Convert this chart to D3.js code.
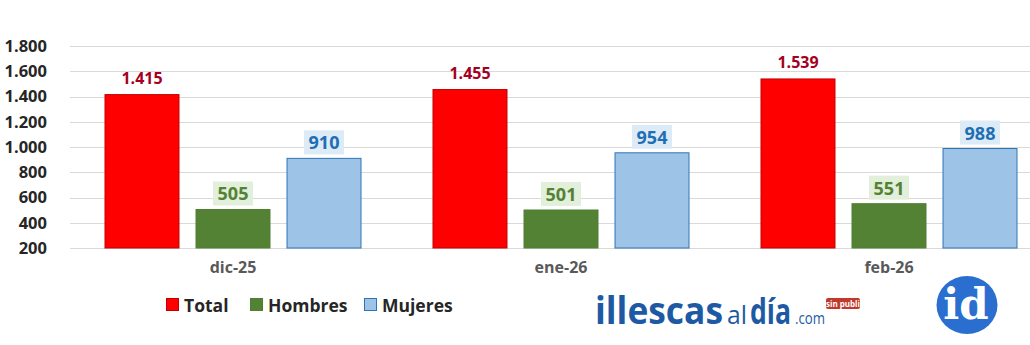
<!DOCTYPE html>
<html><head><meta charset="utf-8">
<script src="https://cdn.jsdelivr.net/npm/d3@7"></script>
<style>body{margin:0;background:#fff;}svg{display:block;font-family:"Open Sans","Liberation Sans",Arial,sans-serif;}</style>
</head><body><svg id="c" width="1030" height="345"></svg>
<script>
const categories = ["dic-25", "ene-26", "feb-26"];
const seriesNames = ["Total", "Hombres", "Mujeres"];
const total = [1415, 1455, 1539];
const hombres = [505, 501, 551];
const mujeres = [910, 954, 988];
const yTicks = [200, 400, 600, 800, 1000, 1200, 1400, 1600, 1800];

const colors = {Total:"#ff0000", Hombres:"#548235", Mujeres:"#9dc3e6"};
const strokes = {Total:"#c00000", Hombres:"#507e32", Mujeres:"#2e75b6"};
const labelColors = {Total:"#a50021", Hombres:"#548235", Mujeres:"#1f6fb5"};
const labelBg = {Total:null, Hombres:"#e2efda", Mujeres:"#ddebf7"};
const fmt = v => d3.format(",")(v).replace(/,/g, ".");

const svg = d3.select("#c");
const y = d3.scaleLinear().domain([200, 1800]).range([248, 46]);
const x = d3.scaleBand().domain(categories).range([69, 1053]).padding(0);
const xs = d3.scaleBand().domain(seriesNames).range([-128.5, 128.5]).paddingInner(0.176).paddingOuter(0);

// gridlines
svg.append("g").selectAll("line").data(yTicks).join("line")
  .attr("x1", 70).attr("x2", 1030)
  .attr("y1", d => Math.round(y(d)) + 0.5).attr("y2", d => Math.round(y(d)) + 0.5)
  .attr("stroke", "#d9d9d9").attr("stroke-width", 1);

// y axis labels
const yAxis = d3.axisLeft(y).tickValues(yTicks).tickFormat(fmt).tickSize(0).tickPadding(0);
const ga = svg.append("g").attr("transform", "translate(47,0)").call(yAxis);
ga.select(".domain").remove();
ga.selectAll("text").attr("font-size", 16.5).attr("font-weight", "bold").attr("fill", "#262626")
  .attr("font-family", "'Open Sans',sans-serif");

// x axis labels
const xAxis = d3.axisBottom(x).tickSize(0).tickPadding(0);
const gx = svg.append("g").attr("transform", "translate(0,262)").call(xAxis);
gx.select(".domain").remove();
gx.selectAll("text").attr("font-size", 16).attr("font-weight", "bold").attr("fill", "#595959")
  .attr("font-family", "'Open Sans',sans-serif").attr("dy", "0.71em");

const data = categories.map((c, i) => ({cat: c, vals: [
  {s:"Total", v: total[i]}, {s:"Hombres", v: hombres[i]}, {s:"Mujeres", v: mujeres[i]}]}));

const groups = svg.append("g").selectAll("g").data(data).join("g")
  .attr("transform", d => `translate(${x(d.cat) + x.bandwidth()/2},0)`);

groups.selectAll("rect.bar").data(d => d.vals).join("rect").attr("class","bar")
  .attr("x", d => xs(d.s) + 0.5).attr("width", xs.bandwidth() - 1)
  .attr("y", d => y(d.v)).attr("height", d => y(200) - y(d.v))
  .attr("fill", d => colors[d.s]).attr("stroke", d => strokes[d.s]).attr("stroke-width", 1);

// labels
groups.each(function(d) {
  const g = d3.select(this);
  d.vals.forEach(o => {
    const cx = xs(o.s) + xs.bandwidth()/2;
    const big = o.s !== "Total";
    const fs = big ? 18 : 16;
    const ty = y(o.v) - (big ? 9 : 11);
    if (labelBg[o.s]) {
      const w = 40, h = 24;
      g.append("rect").attr("x", cx - w/2).attr("y", ty - 19).attr("width", w).attr("height", h)
        .attr("fill", labelBg[o.s]);
    }
    g.append("text").attr("x", cx).attr("y", ty).attr("text-anchor", "middle")
      .attr("font-size", fs).attr("font-weight", "bold").attr("fill", labelColors[o.s])
      .text(fmt(o.v));
  });
});

// legend
const legendX = [166, 250, 364];
const lg = svg.append("g").selectAll("g").data(seriesNames).join("g")
  .attr("transform", (d, i) => `translate(${legendX[i]},298)`);
lg.append("rect").attr("x", 0.5).attr("y", 0.5).attr("width", 12).attr("height", 12)
  .attr("fill", d => colors[d]).attr("stroke", d => strokes[d]);
lg.append("text").attr("x", 18).attr("y", 13.5).attr("font-size", 17.5).attr("font-weight", "bold")
  .attr("fill", "#262626").text(d => d);

// logo text (scaled horizontally to fit)
const logoParts = [
  {t:"illescas", x:595, w:128, fs:37, fw:"bold"},
  {t:"al", x:727, w:20, fs:26, fw:"normal"},
  {t:"día", x:750, w:41, fs:35, fw:"bold"},
  {t:".com", x:795, w:30, fs:17, fw:"normal"}
];
svg.append("g").selectAll("text").data(logoParts).join("text")
  .attr("x", 0).attr("y", 0).attr("fill", "#1d5aa3")
  .attr("font-size", d => d.fs).attr("font-weight", d => d.fw)
  .text(d => d.t)
  .each(function(d) {
    const nat = this.getComputedTextLength();
    d3.select(this).attr("transform", `translate(${d.x},324) scale(${d.w / nat},1)`);
  });
svg.append("rect").attr("x", 826).attr("y", 298).attr("width", 34).attr("height", 11).attr("rx", 2)
  .attr("fill", "#c0392b");
svg.append("text").attr("x", 843).attr("y", 306.5).attr("text-anchor", "middle").attr("font-size", 8)
  .attr("font-weight", "bold").attr("fill", "#fff").text("sin publi");

svg.append("ellipse").attr("cx", 967).attr("cy", 305).attr("rx", 30.5).attr("ry", 29).attr("fill", "#2a6fd0");
svg.append("text").attr("x", 966).attr("y", 319).attr("text-anchor", "middle").attr("font-size", 42)
  .attr("font-weight", "bold").attr("font-family", "'DejaVu Serif',serif").attr("fill", "#fff").text("id");
</script></body></html>
